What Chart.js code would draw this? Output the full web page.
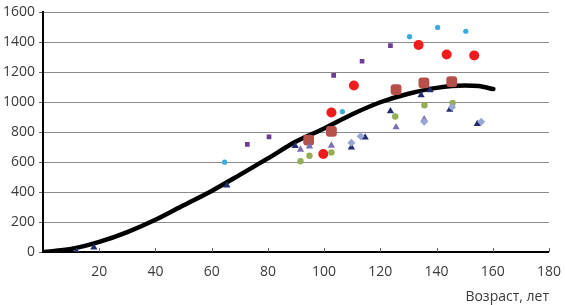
<!DOCTYPE html>
<html><head><meta charset="utf-8">
<script src="https://cdn.jsdelivr.net/npm/chart.js@4"></script>
<style>html,body{margin:0;padding:0;background:#fff}</style>
</head><body>
<canvas id="c" width="565" height="305"></canvas>
<script>
// ---- data ----
const xTickValues = [0, 20, 40, 60, 80, 100, 120, 140, 160, 180];
const yTickValues = [0, 200, 400, 600, 800, 1000, 1200, 1400, 1600];
const xTitle = 'Возраст, лет';

const curveAge   = [0, 10, 20, 30, 40, 50, 60, 70, 80, 90, 100, 110, 120, 130, 140, 150, 155, 160.2];
const curveValue = [0, 20, 67, 133, 215, 312, 408, 515, 625, 738, 825, 920, 1000, 1057, 1096, 1112, 1108, 1088];

const cyanAge   = [64.6, 106.5, 130.4, 140.4, 150.4];
const cyanValue = [600, 937, 1438, 1500, 1474];

const purpleSqAge   = [72.7, 80.4, 103.4, 113.5, 123.6];
const purpleSqValue = [719, 769, 1179, 1274, 1378];

const redAge   = [99.7, 102.6, 110.6, 133.6, 143.6, 153.4];
const redValue = [654, 931, 1112, 1382, 1319, 1313];

const brownAge   = [94.5, 102.6, 125.6, 135.5, 145.4];
const brownValue = [747, 805, 1084, 1129, 1138];

const navyAge   = [11.9, 18.1, 65.4, 89.7, 109.7, 114.6, 123.6, 134.5, 137.7, 144.7, 154.5];
const navyValue = [2, 30, 445, 708, 699, 765, 941, 1047, 1080, 950, 855];

const lilacAge   = [91.6, 94.8, 102.6, 125.6, 135.6];
const lilacValue = [684, 706, 711, 833, 887];

const greenAge   = [91.6, 94.8, 102.6, 125.3, 135.7, 145.7];
const greenValue = [606, 643, 665, 905, 980, 995];

const paleAge   = [109.7, 113.0, 135.6, 145.5, 155.9];
const paleValue = [730, 773, 870, 968, 870];

const pts = (xs, ys) => xs.map((x, i) => ({x: x, y: ys[i]}));

function scatterSet(xs, ys, color, style, r, order) {
  return {
    data: pts(xs, ys), showLine: false,
    backgroundColor: color, borderColor: color, borderWidth: 0,
    pointStyle: style, pointRadius: r, pointHoverRadius: r, order: order
  };
}

const innerTicks = {
  id: 'innerTicks',
  afterDraw(chart) {
    const s = chart.scales.x, ctx = chart.ctx;
    ctx.save();
    ctx.strokeStyle = '#666'; ctx.lineWidth = 1;
    s.ticks.forEach(t => {
      if (t.value === 0) return;
      const px = Math.round(s.getPixelForValue(t.value)) + 0.5;
      ctx.beginPath(); ctx.moveTo(px, s.top); ctx.lineTo(px, s.top - 4); ctx.stroke();
    });
    ctx.restore();
  }
};

new Chart(document.getElementById('c'), {
  type: 'scatter',
  data: {
    datasets: [
      scatterSet(paleAge, paleValue, '#98a6d4', 'rectRot', 4, 2),
      scatterSet(greenAge, greenValue, '#93ae55', 'circle', 3.2, 2),
      scatterSet(lilacAge, lilacValue, '#7d70b0', 'triangle', 4.2, 2),
      scatterSet(navyAge, navyValue, '#232c70', 'triangle', 4.2, 2),
      scatterSet(brownAge, brownValue, '#b5504b', 'rectRounded', 6.3, 2),
      scatterSet(redAge, redValue, '#f21b1b', 'circle', 5, 2),
      scatterSet(purpleSqAge, purpleSqValue, '#6e3b96', 'rect', 3.3, 2),
      scatterSet(cyanAge, cyanValue, '#38acdc', 'circle', 2.6, 2),
      {
        data: pts(curveAge, curveValue), showLine: true,
        borderColor: '#000', borderWidth: 4.5, pointRadius: 0,
        cubicInterpolationMode: 'monotone', borderCapStyle: 'round',
        order: 10
      }
    ]
  },
  options: {
    responsive: false, animation: false,
    layout: { padding: { top: 5, right: 12, left: 0, bottom: 0 } },
    plugins: { legend: { display: false }, tooltip: { enabled: false } },
    scales: {
      x: {
        type: 'linear', min: 0, max: 180,
        afterBuildTicks: s => { s.ticks = xTickValues.map(v => ({value: v})); },
        afterFit: s => { s.height = 53; },
        grid: { display: false },
        border: { display: true, color: '#000', width: 2 },
        ticks: {
          padding: 4, color: '#3a3a3a', maxRotation: 0,
          font: { family: 'Open Sans', size: 14 },
          callback: v => (v === 0 ? '' : String(v))
        },
        title: {
          display: true, text: xTitle, align: 'end', color: '#3a3a3a',
          font: { family: 'Open Sans', size: 14 }, padding: { top: 2, bottom: 0 }
        }
      },
      y: {
        type: 'linear', min: 0, max: 1600,
        afterBuildTicks: s => { s.ticks = yTickValues.map(v => ({value: v})); },
        afterFit: s => { s.width = 43; },
        grid: { color: '#8c8c8c', lineWidth: 1, drawTicks: true, tickLength: 4, tickColor: '#666' },
        border: { display: true, color: '#000', width: 2 },
        ticks: {
          padding: 4, color: '#3a3a3a',
          font: { family: 'Open Sans', size: 14 },
          callback: v => String(v)
        }
      }
    }
  },
  plugins: [innerTicks]
});
</script>
</body></html>
